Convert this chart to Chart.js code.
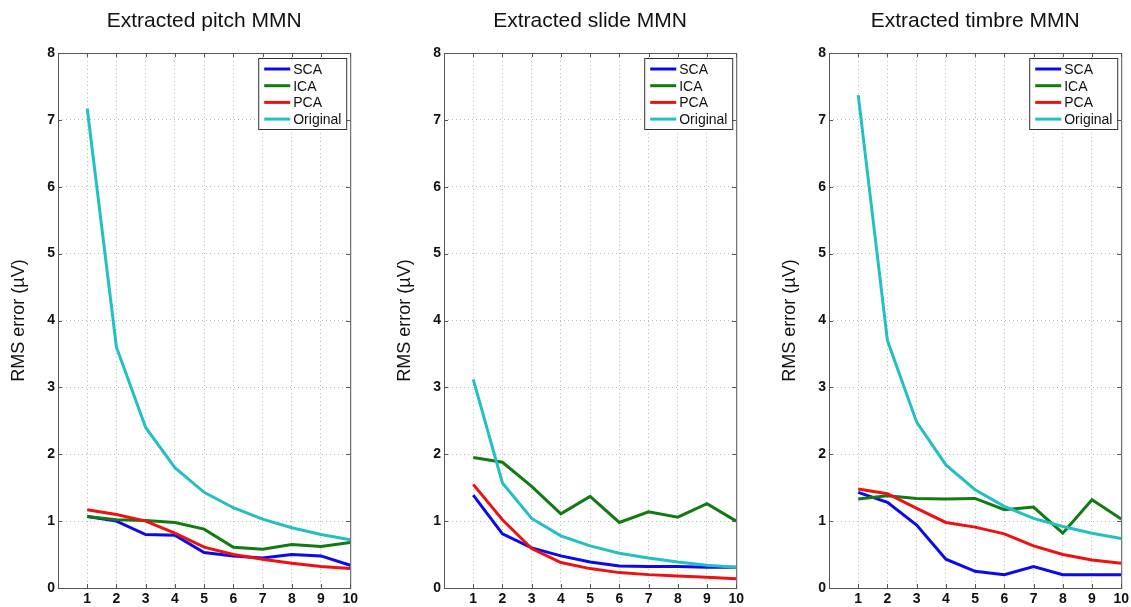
<!DOCTYPE html>
<html>
<head>
<meta charset="utf-8">
<script src="https://cdn.jsdelivr.net/npm/chart.js@4/dist/chart.umd.min.js"></script>
<style>
  html, body { margin: 0; padding: 0; background: #fff; }
  #wrap { position: relative; width: 1131px; height: 607px; overflow: hidden; }
  canvas { position: absolute; top: 0; }
</style>
</head>
<body>
<div id="wrap">
  <canvas id="pitch" width="353" height="607" style="left:8px"></canvas>
  <canvas id="slide" width="353" height="607" style="left:394px"></canvas>
  <canvas id="timbre" width="353" height="607" style="left:779px"></canvas>
</div>
<script>
// components (x axis)
const categories = [1, 2, 3, 4, 5, 6, 7, 8, 9, 10];
const xTicks = [1, 2, 3, 4, 5, 6, 7, 8, 9, 10];
const yTicks = [0, 1, 2, 3, 4, 5, 6, 7, 8];
const seriesNames = ['SCA', 'ICA', 'PCA', 'Original'];
const seriesColors = ['#0a0af0', '#127a12', '#f01010', '#22c0c4'];

// RMS error values
const pitchSCA = [1.07, 1.00, 0.80, 0.79, 0.53, 0.48, 0.45, 0.50, 0.48, 0.34];
const pitchICA = [1.07, 1.02, 1.01, 0.98, 0.88, 0.61, 0.58, 0.65, 0.62, 0.68];
const pitchPCA = [1.17, 1.10, 1.00, 0.82, 0.61, 0.50, 0.43, 0.37, 0.32, 0.29];
const pitchOrig = [7.17, 3.60, 2.40, 1.80, 1.43, 1.20, 1.03, 0.90, 0.80, 0.72];

const slideSCA = [1.39, 0.81, 0.60, 0.48, 0.39, 0.33, 0.32, 0.32, 0.31, 0.31];
const slideICA = [1.95, 1.88, 1.52, 1.11, 1.37, 0.98, 1.14, 1.06, 1.26, 1.00];
const slidePCA = [1.55, 1.02, 0.59, 0.38, 0.29, 0.23, 0.20, 0.18, 0.16, 0.14];
const slideOrig = [3.12, 1.57, 1.04, 0.78, 0.63, 0.52, 0.45, 0.39, 0.34, 0.31];

const timbreSCA = [1.43, 1.28, 0.94, 0.43, 0.25, 0.20, 0.32, 0.20, 0.20, 0.20];
const timbreICA = [1.33, 1.38, 1.34, 1.33, 1.34, 1.17, 1.21, 0.82, 1.32, 1.03];
const timbrePCA = [1.48, 1.41, 1.19, 0.98, 0.91, 0.81, 0.63, 0.50, 0.42, 0.37];
const timbreOrig = [7.37, 3.70, 2.48, 1.84, 1.47, 1.22, 1.04, 0.92, 0.82, 0.74];

const FONT = "'Liberation Sans', Arial, sans-serif";

// box round the plot, inward tick marks and the legend in the top right corner
const framePlugin = {
  id: 'frame',
  afterDraw(chart) {
    const {ctx, chartArea: a, scales} = chart;
    ctx.save();
    ctx.strokeStyle = '#555';
    ctx.lineWidth = 1;
    ctx.strokeRect(a.left + 0.5, a.top + 0.5, a.right - a.left, a.bottom - a.top);
    ctx.beginPath();
    yTicks.forEach(v => {
      const y = Math.round(scales.y.getPixelForValue(v)) + 0.5;
      ctx.moveTo(a.left, y); ctx.lineTo(a.left + 4, y);
      ctx.moveTo(a.right, y); ctx.lineTo(a.right - 4, y);
    });
    xTicks.forEach(v => {
      const x = Math.round(scales.x.getPixelForValue(v)) + 0.5;
      ctx.moveTo(x, a.bottom); ctx.lineTo(x, a.bottom - 4);
      ctx.moveTo(x, a.top); ctx.lineTo(x, a.top + 4);
    });
    ctx.stroke();

    // legend
    const w = 88, h = 71;
    const lx = a.right - 4 - w, ly = a.top + 5;
    ctx.fillStyle = '#fff';
    ctx.fillRect(lx, ly, w, h);
    ctx.strokeStyle = '#333';
    ctx.strokeRect(lx + 0.5, ly + 0.5, w, h);
    ctx.font = '14px ' + FONT;
    ctx.textBaseline = 'middle';
    chart.data.datasets.forEach((ds, i) => {
      const y = ly + 11 + i * 16.7;
      ctx.strokeStyle = ds.borderColor;
      ctx.lineWidth = 3;
      ctx.beginPath();
      ctx.moveTo(lx + 6, y); ctx.lineTo(lx + 32, y);
      ctx.stroke();
      ctx.fillStyle = '#111';
      ctx.fillText(ds.label, lx + 35, y + 1);
    });
    ctx.restore();
  }
};

function makeChart(id, title, series) {
  const datasets = series.map((vals, i) => ({
    label: seriesNames[i],
    data: categories.map((c, k) => ({x: c, y: vals[k]})),
    borderColor: seriesColors[i],
    backgroundColor: seriesColors[i],
    borderWidth: 3,
    pointRadius: 0,
    tension: 0,
    order: series.length - i
  }));
  new Chart(document.getElementById(id), {
    type: 'line',
    data: { datasets },
    plugins: [framePlugin],
    options: {
      responsive: false,
      animation: false,
      layout: { padding: { left: 0, right: 0, top: 0, bottom: 0 } },
      plugins: {
        legend: { display: false },
        tooltip: { enabled: false },
        title: {
          display: true,
          text: title,
          fullSize: false,
          color: '#111',
          font: { family: FONT, size: 21, weight: 'normal' },
          padding: { top: 9, bottom: 18.8 }
        }
      },
      scales: {
        x: {
          type: 'linear',
          min: 0,
          max: 10,
          afterFit: s => { s.height = 19; },
          afterBuildTicks: s => { s.ticks = xTicks.map(v => ({value: v})); },
          ticks: {
            autoSkip: false,
            maxRotation: 0,
            padding: 3,
            color: '#111',
            font: { family: FONT, size: 14, weight: 'bold' }
          },
          grid: { color: '#bdbdbd', drawTicks: false },
          border: { display: false, dash: [1, 3] }
        },
        y: {
          min: 0,
          max: 8,
          afterFit: s => { s.width = 50; },
          afterBuildTicks: s => { s.ticks = yTicks.map(v => ({value: v})); },
          ticks: {
            padding: 3,
            color: '#111',
            font: { family: FONT, size: 14, weight: 'bold' }
          },
          title: {
            display: true,
            text: 'RMS error (µV)',
            color: '#111',
            font: { family: FONT, size: 18 },
            padding: { top: 0, bottom: 0 }
          },
          grid: { color: '#bdbdbd', drawTicks: false },
          border: { display: false, dash: [1, 3] }
        }
      }
    }
  });
}

makeChart('pitch', 'Extracted pitch MMN', [pitchSCA, pitchICA, pitchPCA, pitchOrig]);
makeChart('slide', 'Extracted slide MMN', [slideSCA, slideICA, slidePCA, slideOrig]);
makeChart('timbre', 'Extracted timbre MMN', [timbreSCA, timbreICA, timbrePCA, timbreOrig]);
</script>
</body>
</html>
